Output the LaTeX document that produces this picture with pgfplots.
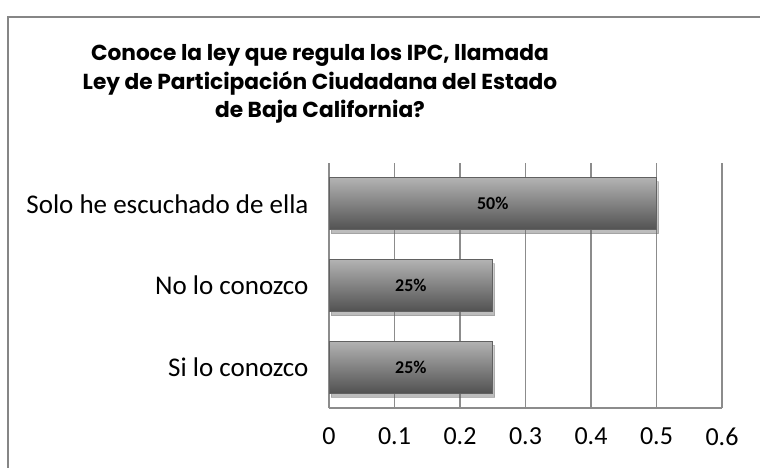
\documentclass[border=0pt]{standalone}
\usepackage{fontspec}
\setmainfont{Carlito}
\newfontfamily\titlefont{Poppins}
\usepackage{pgfplots}
\pgfplotsset{compat=1.18}
\usetikzlibrary{shadows}

\definecolor{gridgray}{RGB}{140,140,140}
\definecolor{framegray}{RGB}{134,134,134}

\begin{document}
\begin{tikzpicture}[x=1pt,y=1pt]
\useasboundingbox (0,0) rectangle (760,467);
\draw[framegray, line width=1.5pt] (8,-20) rectangle (780,450);
\node[align=center, font=\titlefont\bfseries\fontsize{21.7}{28.5}\selectfont] at (320,383)
  {Conoce la ley que regula los IPC, llamada\\
   Ley de Participación Ciudadana del Estado\\
   de Baja California?};
\begin{axis}[
  at={(329pt,59pt)}, anchor=south west, scale only axis,
  width=393pt, height=245pt,
  xbar, bar width=52pt, bar shift=0pt,
  xmin=0, xmax=0.6, ymin=-0.5, ymax=2.5,
  xtick={0,0.1,0.2,0.3,0.4,0.5,0.6},
  ytick={0,1,2},
  yticklabels={Si lo conozco, No lo conozco, Solo he escuchado de ella},
  axis x line*=bottom, axis y line*=left,
  axis line style={gridgray, line width=1.2pt, -},
  xmajorgrids, grid style={gridgray, line width=1.2pt},
  major tick length=0pt,
  /pgf/number format/assume math mode=true,
  xticklabel style={/pgf/number format/fixed, font=\fontsize{26}{26}\selectfont, yshift=-16pt},
  yticklabel style={font=\fontsize{27}{27}\selectfont, xshift=-17pt},
  nodes near coords,
  point meta=explicit symbolic,
  visualization depends on={x \as \rawx},
  every node near coord/.append style={anchor=center,
    font=\bfseries\fontsize{18}{18}\selectfont,
    shift={(axis direction cs:-\rawx/2,0)}},
  bars/.style={draw=black!62, line width=0.9pt,
    top color=black!30, middle color=black!52, bottom color=black!68,
    drop shadow={shadow xshift=2pt, shadow yshift=-4pt, opacity=0.25}},
]
\addplot[bars] coordinates {(0.25,0) [25\%]};
\addplot[bars] coordinates {(0.25,1) [25\%]};
\addplot[bars] coordinates {(0.50,2) [50\%]};
\end{axis}
\end{tikzpicture}
\end{document}
